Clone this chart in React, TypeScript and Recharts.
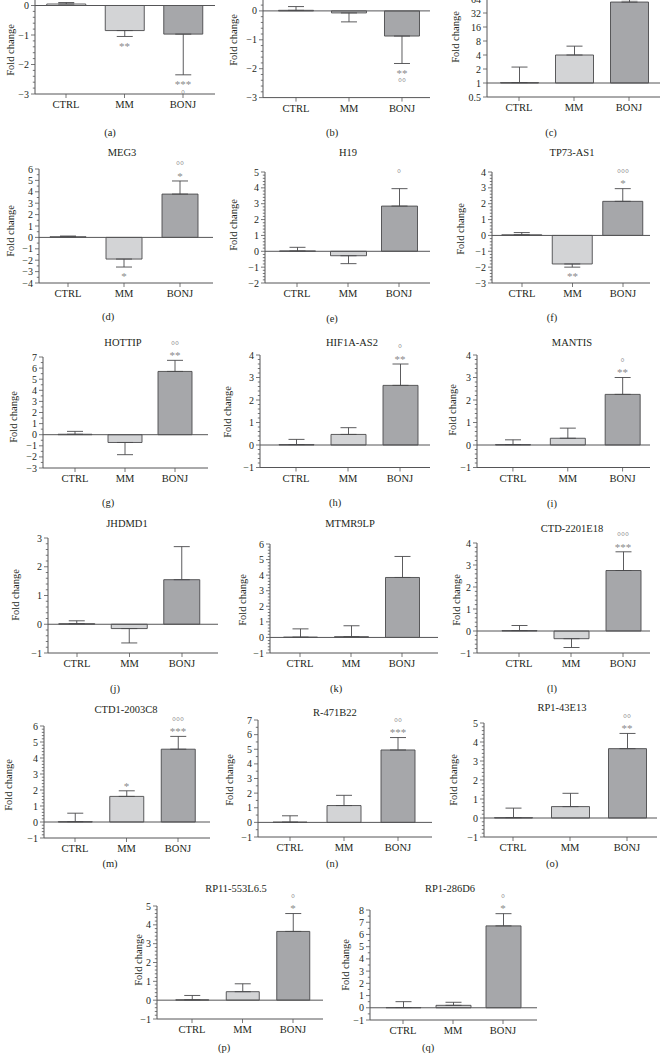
import React from "react";
import {
  Bar,
  BarChart,
  Cell,
  ErrorBar,
  ReferenceDot,
  ReferenceLine,
  XAxis,
  YAxis,
} from "recharts";

const groups = ["CTRL", "MM", "BONJ"];

// panels a..q ; gene titles of the top row are cut off in the source
const panelIds = ["a", "b", "c", "d", "e", "f", "g", "h", "i", "j", "k", "l", "m", "n", "o", "p", "q"];
const genes = ["", "", "", "MEG3", "H19", "TP73-AS1", "HOTTIP", "HIF1A-AS2", "MANTIS", "JHDMD1", "MTMR9LP", "CTD-2201E18", "CTD1-2003C8", "R-471B22", "RP1-43E13", "RP11-553L6.5", "RP1-286D6"];

// bar heights (panel c is plain fold change on a log2 axis)
const ctrlMean = [0.05, 0.02, 1.02, 0.06, 0.02, 0.04, 0.04, 0.02, 0.02, 0.02, 0.02, 0.02, 0.02, 0.02, 0.02, 0.02, 0.02];
const mmMean = [-0.85, -0.07, 4, -1.9, -0.28, -1.8, -0.7, 0.47, 0.3, -0.15, 0.05, -0.35, 1.6, 1.15, 0.6, 0.45, 0.2];
const bonjMean = [-0.97, -0.87, 55, 3.8, 2.85, 2.15, 5.7, 2.65, 2.25, 1.55, 3.85, 2.75, 4.55, 4.95, 3.65, 3.65, 6.7];

// where the error whisker ends
const ctrlTip = [0.1, 0.15, 2.2, 0.12, 0.25, 0.18, 0.3, 0.25, 0.23, 0.12, 0.55, 0.25, 0.55, 0.45, 0.52, 0.25, 0.5];
const mmTip = [-1.05, -0.38, 6.2, -2.6, -0.78, -2.0, -1.8, 0.77, 0.75, -0.65, 0.75, -0.75, 1.95, 1.85, 1.3, 0.87, 0.45];
const bonjTip = [-2.35, -1.82, 62, 4.95, 3.95, 2.95, 6.7, 3.6, 3.0, 2.7, 5.2, 3.6, 5.35, 5.8, 4.45, 4.6, 7.7];

// significance marks
const mmMark = ["**", "", "", "*", "", "**", "", "", "", "", "", "", "*", "", "", "", ""];
const bonjMark = ["***", "**", "", "*", "", "*", "**", "**", "**", "", "", "***", "***", "***", "**", "*", "*"];
const bonjRing = ["°", "°°", "", "°°", "°", "°°°", "°°", "°", "°", "", "", "°°°", "°°°", "°°", "°°", "°", "°"];

// y axis range per panel
const yMin = [-3, -3, 0.5, -4, -2, -3, -3, -1, -1, -1, -1, -1, -1, -1, -1, -1, -1];
const yMax = [1, 1, 64, 6, 5, 4, 7, 4, 4, 3, 6, 4, 6, 7, 5, 5, 8];

// page layout (pixels): axis x, CTRL/BONJ centres, plot right, plot top/bottom, bar width,
// "Fold change" label, title and caption positions
const layout = [
  { ax: 35, c0: 66, c2: 183, right: 215, top: -24.5, bot: 93.5, bar: 39, lx: 10, ly: 50, tx: 0, ty: 0, cx: 110, cy: 132 },
  { ax: 263, c0: 296, c2: 402, right: 430, top: -18.2, bot: 97.4, bar: 35, lx: 233, ly: 40, tx: 0, ty: 0, cx: 332, cy: 132 },
  { ax: 487, c0: 519, c2: 629, right: 660, top: -1, bot: 97, bar: 38, lx: 455, ly: 37, tx: 0, ty: 0, cx: 551, cy: 132 },
  { ax: 39, c0: 68, c2: 180, right: 213, top: 169, bot: 283, bar: 36, lx: 10, ly: 231, tx: 122, ty: 152, cx: 108, cy: 316 },
  { ax: 265, c0: 297, c2: 399, right: 430, top: 172, bot: 283, bar: 36, lx: 233, ly: 225, tx: 348, ty: 152, cx: 332, cy: 318 },
  { ax: 492, c0: 522, c2: 623, right: 650, top: 172, bot: 283, bar: 40, lx: 460, ly: 229, tx: 572, ty: 152, cx: 552, cy: 317 },
  { ax: 43, c0: 75, c2: 175, right: 208, top: 357, bot: 468, bar: 34, lx: 13, ly: 417, tx: 123, ty: 342, cx: 108, cy: 502 },
  { ax: 260, c0: 296, c2: 400, right: 430, top: 354.5, bot: 467, bar: 35, lx: 227, ly: 412, tx: 352, ty: 342, cx: 335, cy: 502 },
  { ax: 477, c0: 513, c2: 623, right: 650, top: 354.5, bot: 467, bar: 35, lx: 452, ly: 410, tx: 572, ty: 342, cx: 552, cy: 503 },
  { ax: 48, c0: 77, c2: 182, right: 218, top: 538, bot: 653, bar: 36, lx: 15, ly: 595, tx: 127, ty: 523, cx: 115, cy: 688 },
  { ax: 270, c0: 300, c2: 402, right: 438, top: 544, bot: 653, bar: 34, lx: 242, ly: 600, tx: 350, ty: 523, cx: 336, cy: 688 },
  { ax: 477, c0: 519, c2: 623, right: 650, top: 543, bot: 653, bar: 35, lx: 456, ly: 600, tx: 572, ty: 528, cx: 552, cy: 688 },
  { ax: 44, c0: 75, c2: 178, right: 210, top: 726, bot: 838, bar: 34, lx: 8, ly: 785, tx: 126, ty: 709, cx: 110, cy: 863 },
  { ax: 258, c0: 290, c2: 398, right: 432, top: 720, bot: 837, bar: 34, lx: 229, ly: 780, tx: 335, ty: 712, cx: 332, cy: 863 },
  { ax: 484, c0: 513, c2: 627, right: 657, top: 723, bot: 837, bar: 38, lx: 453, ly: 780, tx: 562, ty: 707, cx: 552, cy: 863 },
  { ax: 157, c0: 192, c2: 293, right: 323, top: 906, bot: 1019, bar: 33, lx: 138, ly: 960, tx: 236, ty: 888, cx: 224, cy: 1047 },
  { ax: 370, c0: 403, c2: 503, right: 537, top: 910, bot: 1020, bar: 35, lx: 345, ly: 965, tx: 450, ty: 888, cx: 428, cy: 1047 },
];

const FONT = "'Liberation Serif', 'DejaVu Serif', serif";
const TEXT = "#231f20";
const AXIS = "#555557";
const EDGE = "#4a4a4c";
const MARK = "#8a8a8c";
const FILLS = ["#ffffff", "#d3d4d6", "#a6a7aa"];

const YW = 36;
const MT = 30;
const XH = 26;
const MR = 4;

function Marks({ cx, cy, up, star, ring }: any) {
  const s = up ? -1 : 1;
  return (
    <g fill={MARK} fontFamily={FONT} textAnchor="middle">
      {star ? (
        <text x={cx} y={cy + s * (up ? 6.5 : 8) + 5.3} fontSize={11}>
          {star}
        </text>
      ) : null}
      {ring ? (
        <text x={cx} y={cy + s * (up ? 17 : 17.5) + 5.4} fontSize={10}>
          {ring}
        </text>
      ) : null}
    </g>
  );
}

function Panel({ i }: { i: number }) {
  const L = layout[i];
  const isLog = i === 2;
  const tf = (v: number) => (isLog ? Math.log2(v) : v);
  const means = [ctrlMean[i], mmMean[i], bonjMean[i]];
  const tips = [ctrlTip[i], mmTip[i], bonjTip[i]];
  const stars = ["", mmMark[i], bonjMark[i]];
  const rings = ["", "", bonjRing[i]];
  const rows = groups.map((g, k) => {
    const m = tf(means[k]);
    const t = tf(tips[k]);
    return { g, m, t, err: t >= m ? [0, t - m] : [m - t, 0] };
  });

  const lo = tf(yMin[i]);
  const hi = tf(yMax[i]);
  const unit = (L.bot - L.top) / (hi - lo);
  const sub = isLog ? 1 : unit >= 15 ? 5 : 2;
  const ticks: number[] = [];
  for (let k = 0; k <= Math.round((hi - lo) * sub); k++) {
    ticks.push(Number((lo + k / sub).toFixed(4)));
  }
  const fmt = (v: number) =>
    isLog ? String(2 ** v) : v < 0 ? `\u2212${-v}` : String(v);

  const band = (L.c2 - L.c0) / 2;
  const padL = Math.max(0, L.c0 - band / 2 - L.ax);
  const padR = Math.max(0, L.right - L.c2 - band / 2);
  const W = YW + (L.right - L.ax) + MR;
  const H = MT + (L.bot - L.top) + XH;

  const yTick = (p: any) => {
    const v = p.payload.value;
    const major = Math.abs(v - Math.round(v)) < 1e-6;
    return (
      <g>
        <line x1={YW} x2={YW - (major ? 4 : 2.2)} y1={p.y} y2={p.y} stroke={AXIS} strokeWidth={0.8} />
        {major ? (
          <text x={YW - 6} y={p.y + 3.5} textAnchor="end" fontSize={10} fill={TEXT} fontFamily={FONT}>
            {fmt(v)}
          </text>
        ) : null}
      </g>
    );
  };

  return (
    <div style={{ position: "absolute", left: L.ax - YW, top: L.top - MT }}>
      <BarChart
        width={W}
        height={H}
        data={rows}
        margin={{ top: MT, right: MR, left: 0, bottom: 0 }}
        barSize={L.bar}
      >
        <XAxis
          dataKey="g"
          height={XH}
          interval={0}
          padding={{ left: padL, right: padR }}
          axisLine={{ stroke: AXIS, strokeWidth: 1 }}
          tickLine={{ stroke: AXIS, strokeWidth: 0.8 }}
          tickSize={4}
          tickMargin={3}
          tick={{ fontSize: 10.5, fill: TEXT, fontFamily: FONT }}
        />
        <YAxis
          type="number"
          width={YW}
          domain={[lo, hi]}
          allowDataOverflow
          ticks={ticks}
          interval={0}
          tickLine={false}
          axisLine={{ stroke: AXIS, strokeWidth: 1 }}
          tick={yTick}
        />
        <ReferenceLine y={0} stroke={AXIS} strokeWidth={1} />
        <Bar dataKey="m" isAnimationActive={false} stroke={EDGE} strokeWidth={0.9}>
          {rows.map((r, k) => (
            <Cell key={r.g} fill={FILLS[k]} />
          ))}
          <ErrorBar dataKey="err" direction="y" width={8} stroke={EDGE} strokeWidth={0.9} />
        </Bar>
        {rows.map((r, k) =>
          stars[k] || rings[k] ? (
            <ReferenceDot
              key={r.g}
              x={r.g}
              y={r.t}
              r={0}
              ifOverflow="visible"
              shape={(p: any) => (
                <Marks cx={p.cx} cy={p.cy} up={r.t >= r.m} star={stars[k]} ring={rings[k]} />
              )}
            />
          ) : null
        )}
      </BarChart>
    </div>
  );
}

export default function App() {
  return (
    <div
      style={{
        position: "absolute",
        left: 0,
        top: 0,
        width: 660,
        height: 1061,
        overflow: "hidden",
        background: "#fff",
      }}
    >
      {panelIds.map((id, i) => (
        <Panel key={id} i={i} />
      ))}
      <svg
        width={660}
        height={1061}
        style={{ position: "absolute", left: 0, top: 0, pointerEvents: "none" }}
        fontFamily={FONT}
        fill={TEXT}
      >
        {panelIds.map((id, i) => {
          const L = layout[i];
          return (
            <g key={id}>
              {genes[i] ? (
                <text x={L.tx} y={L.ty + 4} textAnchor="middle" fontSize={10.5}>
                  {genes[i]}
                </text>
              ) : null}
              <text
                x={L.lx}
                y={L.ly}
                textAnchor="middle"
                dominantBaseline="central"
                fontSize={10.5}
                transform={`rotate(-90 ${L.lx} ${L.ly})`}
              >
                Fold change
              </text>
              <text x={L.cx} y={L.cy + 4} textAnchor="middle" fontSize={10.5}>
                ({id})
              </text>
            </g>
          );
        })}
      </svg>
    </div>
  );
}
